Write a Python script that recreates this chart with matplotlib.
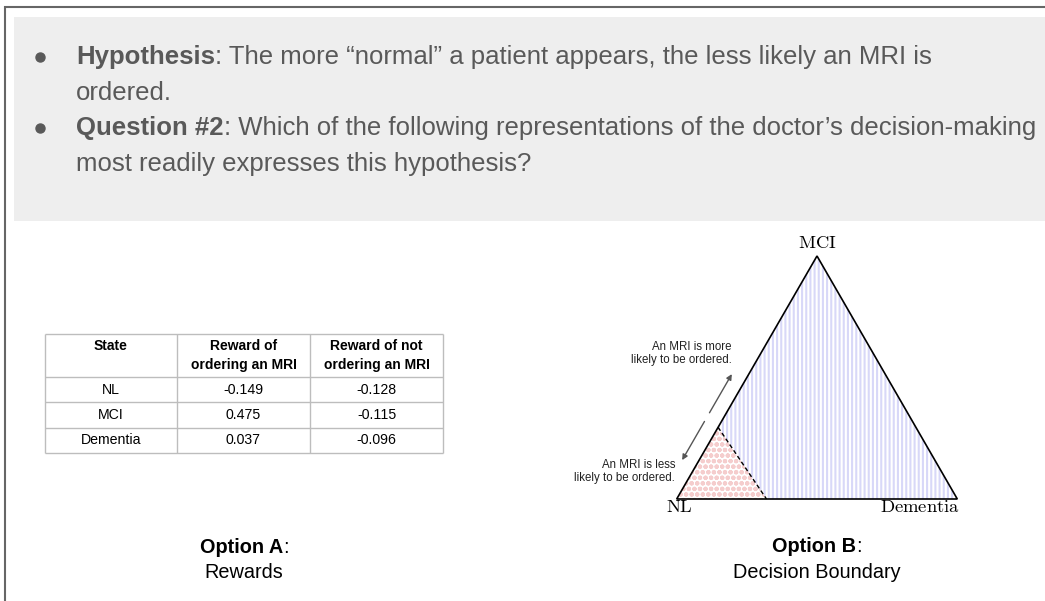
import numpy as np
import matplotlib.pyplot as plt
from matplotlib.patches import Polygon, Rectangle

plt.rcParams['font.family'] = ['Liberation Sans', 'DejaVu Sans']
plt.rcParams['hatch.linewidth'] = 1.5

# Slide text: (bold lead, rest of line)
bullets = [
    ("Hypothesis", ": The more \u201cnormal\u201d a patient appears, the less likely an MRI is"),
    ("", "ordered."),
    ("Question #2", ": Which of the following representations of the doctor\u2019s decision-making"),
    ("", "most readily expresses this hypothesis?"),
]

# Option A: reward table
table_header = ["State", "Reward of\nordering an MRI", "Reward of not\nordering an MRI"]
states = ["NL", "MCI", "Dementia"]
reward_mri = [-0.149, 0.475, 0.037]
reward_no_mri = [-0.128, -0.115, -0.096]

# Option B: belief simplex with decision boundary near the NL corner
boundary_left_edge = 0.295   # fraction of the way NL -> MCI
boundary_base = 0.32         # fraction of the way NL -> Dementia
more_text = "An MRI is more\nlikely to be ordered."
less_text = "An MRI is less\nlikely to be ordered."

caption_a = ("Option A", "Rewards")
caption_b = ("Option B", "Decision Boundary")

text_gray = '#595959'

fig = plt.figure(figsize=(10.45, 6.01), dpi=100)
ax = fig.add_axes([0, 0, 1, 1])
ax.set_xlim(0, 1045)
ax.set_ylim(601, 0)
ax.axis('off')
renderer = fig.canvas.get_renderer()


def mixed_line(x, y, parts, size, color, ha='left'):
    # draw a line made of (text, weight) pieces on a common baseline
    arts = [ax.text(0, y, s, fontsize=size, fontweight=w, color=color, va='baseline')
            for s, w in parts]
    widths = [a.get_window_extent(renderer).width for a in arts]
    cx = x - sum(widths) / 2 if ha == 'center' else x
    for a, wd in zip(arts, widths):
        a.set_x(cx)
        cx += wd


# slide frame and gray text box
ax.plot([4.5, 4.5, 1045], [601, 7, 7], color='#666666', lw=1.5, solid_joinstyle='miter')
ax.add_patch(Rectangle((14, 17), 1045 - 14, 221 - 17, facecolor='#eeeeee', edgecolor='none'))

baselines = [64, 99.5, 135, 171]
for (lead, rest), yb in zip(bullets, baselines):
    if lead:
        ax.plot(40, yb - 7, 'o', ms=6.5, color=text_gray)
        mixed_line(76, yb, [(lead, 'bold'), (rest, 'normal')], 18.5, text_gray)
    else:
        mixed_line(76, yb, [(rest, 'normal')], 18.5, text_gray)

# table
col_edges = [45, 177, 310, 443]
row_edges = [334, 377, 402, 428, 453]
ax.hlines(row_edges, col_edges[0], col_edges[-1], color='#bdbdbd', lw=1)
ax.vlines(col_edges, row_edges[0], row_edges[-1], color='#bdbdbd', lw=1)
col_mid = [(a + b) / 2 for a, b in zip(col_edges[:-1], col_edges[1:])]
for cx, h in zip(col_mid, table_header):
    ax.text(cx, 339.5, h, fontsize=10, fontweight='bold', ha='center', va='top',
            linespacing=1.45)
for i, (s, r1, r2) in enumerate(zip(states, reward_mri, reward_no_mri)):
    cy = (row_edges[i + 1] + row_edges[i + 2]) / 2
    for cx, val in zip(col_mid, [s, f"{r1:.3f}", f"{r2:.3f}"]):
        ax.text(cx, cy, val, fontsize=10.2, ha='center', va='center')

# simplex: barycentric -> pixel
nl_px = (676.7, 499.0)
side = 280.6


def tern(f_dem, f_mci):
    x = nl_px[0] + side * (f_dem + 0.5 * f_mci)
    y = nl_px[1] - side * np.sqrt(3) / 2 * f_mci
    return x, y


NL = tern(0, 0)
DEM = tern(1, 0)
MCI = tern(0, 1)
b1 = tern(0, boundary_left_edge)
b2 = tern(boundary_base, 0)

ax.add_patch(Polygon([b1, b2, DEM, MCI], closed=True, facecolor='white',
                     edgecolor='#d8d8f8', hatch='||||', lw=0))
ax.add_patch(Polygon([NL, b2, b1], closed=True, facecolor='white',
                     edgecolor='#f5cdcd', hatch='ooo', lw=0))
ax.add_patch(Polygon([NL, DEM, MCI], closed=True, fill=False, edgecolor='black', lw=1.2))
ax.plot([b1[0], b2[0]], [b1[1], b2[1]], color='black', lw=1, dashes=(3, 2))

lab_kw = dict(math_fontfamily='cm', fontsize=13.4, va='center')
ax.text(MCI[0], MCI[1] - 12, r'$\mathrm{MCI}$', ha='center', **lab_kw)
ax.text(NL[0] + 3, NL[1] + 8, r'$\mathrm{NL}$', ha='center', **lab_kw)
ax.text(DEM[0] + 3, DEM[1] + 8, r'$\mathrm{Dementia}$', ha='right', **lab_kw)

# double arrow alongside the NL-MCI edge
lo = tern(0, 0.16)
hi = tern(0, 0.514)
lo = (lo[0] - 17, lo[1])
hi = (hi[0] - 17, hi[1])
mid = ((lo[0] + hi[0]) / 2, (lo[1] + hi[1]) / 2)
u = np.array(hi) - np.array(lo)
u = u / np.hypot(*u)
gap = 5
arrow_kw = dict(arrowstyle='-|>', color='#555555', lw=1, mutation_scale=8,
                shrinkA=0, shrinkB=0)
ax.annotate('', xy=hi, xytext=(mid[0] + gap * u[0], mid[1] + gap * u[1]), arrowprops=arrow_kw)
ax.annotate('', xy=lo, xytext=(mid[0] - gap * u[0], mid[1] - gap * u[1]), arrowprops=arrow_kw)

ax.text(hi[0], 353.5, more_text, fontsize=8.3, ha='right', va='center', color='#222222')
ax.text(NL[0] - 1.7, 471.5, less_text, fontsize=8.3, ha='right', va='center', color='#222222')

# captions
mixed_line(244, 553, [(caption_a[0], 'bold'), (":", 'normal')], 14.3, 'black', ha='center')
ax.text(244, 577.5, caption_a[1], fontsize=14.3, ha='center', va='baseline')
mixed_line(MCI[0], 552, [(caption_b[0], 'bold'), (":", 'normal')], 14.3, 'black', ha='center')
ax.text(MCI[0], 577.5, caption_b[1], fontsize=14.3, ha='center', va='baseline')

fig.savefig('out.png', dpi=100)
